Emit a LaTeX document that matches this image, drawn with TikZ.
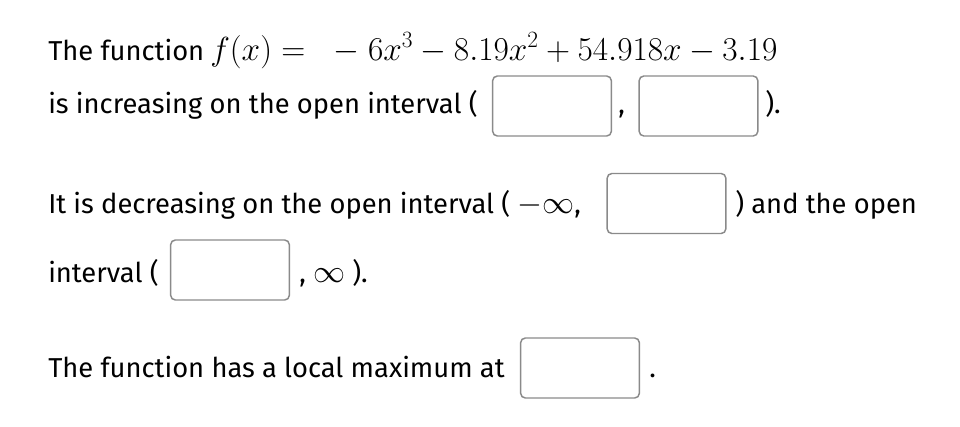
\RequirePackage{fix-cm}
\documentclass[tikz,border=0pt]{standalone}
\usepackage{fontspec}
\setmainfont{Fira Sans}
\usepackage{xcolor}
\usepackage{tikz}
\definecolor{boxgray}{HTML}{8A8A8A}
\tikzset{txt/.style={anchor=base west,inner sep=0pt,font=\fontsize{20.5}{25}\selectfont}}
\tikzset{mth/.style={anchor=base west,inner sep=0pt,font=\fontsize{25}{30}\selectfont}}
\tikzset{ans/.style={draw=boxgray,line width=1.1pt,rounded corners=3.5pt,minimum width=89pt,minimum height=45pt,inner sep=0pt}}
\newcommand{\mathbig}[1]{{\fontsize{24}{29}\selectfont$#1$}}

\begin{document}
\begin{tikzpicture}[x=0.75pt,y=-0.75pt]
    \path[use as bounding box] (0,0) rectangle (960,426);

    \node[txt] (l1)at (48,60) {The function};
    \node[mth] (fx)at (210,60) {$f(x) =$};
    \node[mth] (poly)at (333,60) {$-\ 6x^3 - 8.19x^2 + 54.918x - 3.19$};

    \node[txt] (l2)at (48,113) {is increasing on the open interval (};
    \node[ans] (b1)at (552,106) {};
    \node[txt] (c2)at (618,113) {,};
    \node[ans] (b2)at (698.5,106) {};
    \node[txt] (e2)at (765,113) {).};

    \node[txt] (l3)at (48,213) {It is decreasing on the open interval ( \mathbig{-\infty},};
    \node[ans] (b3)at (666.5,203.5) {};
    \node[txt] (e3)at (735,213) {) and the open};

    \node[txt] (l4)at (48,282) {interval (};
    \node[ans] (b4)at (230,270) {};
    \node[txt] (e4)at (299,282) {, \mathbig{\infty} ).};

    \node[txt] (l5)at (48,377) {The function has a local maximum at};
    \node[ans] (b5)at (580,368) {};
    \node[txt] (e5)at (649,377) {.};
\end{tikzpicture}
\end{document}
